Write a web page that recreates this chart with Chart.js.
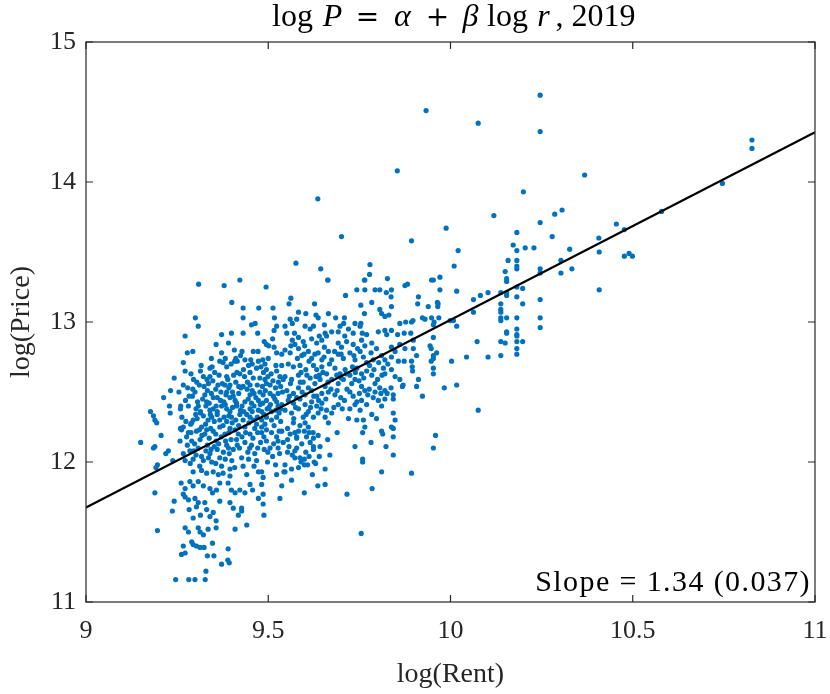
<!DOCTYPE html>
<html>
<head>
<meta charset="utf-8">
<title>log P vs log r, 2019</title>
<script src="https://cdn.jsdelivr.net/npm/chart.js@4.4.1/dist/chart.umd.min.js"></script>
<style>
  html, body { margin: 0; padding: 0; background: #fff; }
  #wrap { width: 830px; height: 694px; }
</style>
</head>
<body>
<div id="wrap"><canvas id="chart" width="830" height="694"></canvas></div>
<script>
// axis ticks
const xTicks = [9, 9.5, 10, 10.5, 11];
const yTicks = [11, 12, 13, 14, 15];

// fitted line log P = a + b log r (end points at the x limits)
const fitRent = [9, 11];
const fitPrice = [11.675, 14.355];
const slopeLabel = 'Slope = 1.34 (0.037)';

// observations [log rent, log price]
const westUpper = [
  [9.309,13.27],[9.379,13.26],[9.422,13.30],[9.494,13.25],[9.400,13.14],[9.431,13.10],[9.474,13.10],[9.513,13.10],
  [9.300,13.03],[9.431,13.03],[9.517,13.03],[9.308,12.97],[9.454,12.98],[9.464,12.99],[9.523,12.97],[9.272,12.90],
  [9.372,12.91],[9.399,12.92],[9.431,12.92],[9.471,12.92],[9.516,12.94],[9.512,12.88],[9.357,12.84],[9.391,12.85],
  [9.489,12.86],[9.495,12.84],[9.501,12.83],[9.516,12.82],[9.293,12.79],[9.278,12.78],[9.372,12.78],[9.407,12.80],
  [9.428,12.79],[9.459,12.79],[9.472,12.79],[9.523,12.78],[9.344,12.74],[9.367,12.72],[9.376,12.71],[9.411,12.74],
  [9.415,12.72],[9.408,12.72],[9.436,12.73],[9.452,12.73],[9.473,12.72],[9.485,12.73],[9.500,12.74],[9.537,12.77],
  [9.267,12.71],[9.316,12.69],[9.340,12.67],[9.386,12.68],[9.446,12.69],[9.432,12.66],[9.468,12.67],[9.480,12.68],
  [9.495,12.66],[9.521,12.69],[9.537,12.69],[9.272,12.65],[9.314,12.65],[9.353,12.64],[9.414,12.64],[9.422,12.63],
  [9.450,12.64],[9.508,12.63],[9.523,12.65],[9.242,12.60],[9.295,12.59],[9.340,12.61],[9.332,12.59],[9.386,12.61],
  [9.389,12.59],[9.435,12.61],[9.459,12.60],[9.477,12.60],[9.491,12.59],[9.499,12.61],[9.532,12.61],[9.541,12.59],
  [9.267,12.55],[9.311,12.55],[9.324,12.54],[9.362,12.55],[9.374,12.56],[9.395,12.55],[9.392,12.53],[9.419,12.54],
  [9.425,12.53],[9.431,12.54],[9.450,12.55],[9.470,12.55],[9.484,12.54],[9.505,12.55],[9.520,12.53],[9.534,12.54],
  [9.232,12.51],[9.255,12.50],[9.293,12.52],[9.299,12.50],[9.333,12.51],[9.344,12.49],[9.386,12.50],[9.384,12.48],
  [9.419,12.49],[9.404,12.47],[9.450,12.48],[9.461,12.49],[9.477,12.50],[9.486,12.48],[9.505,12.49],[9.514,12.47],
  [9.527,12.49],[9.539,12.50],[9.213,12.46],[9.273,12.44],[9.292,12.47],[9.320,12.45],[9.331,12.43],[9.349,12.46],
  [9.360,12.46],[9.369,12.44],[9.378,12.43],[9.395,12.46],[9.409,12.44],[9.413,12.42],[9.436,12.43],[9.445,12.45],
  [9.454,12.42],[9.473,12.44],[9.485,12.42],[9.495,12.44],[9.506,12.41],[9.523,12.43],[9.537,12.41],[9.229,12.40],
  [9.231,12.35],[9.260,12.40],[9.259,12.38],[9.308,12.40],[9.314,12.36],[9.329,12.40],[9.340,12.37],[9.349,12.38],
  [9.360,12.36],[9.372,12.40],[9.386,12.38],[9.395,12.36],[9.413,12.40],[9.424,12.37],[9.433,12.36],[9.450,12.38],
  [9.461,12.40],[9.473,12.37],[9.482,12.36],[9.497,12.38],[9.509,12.36],[9.521,12.37],[9.534,12.38],[9.177,12.36],
  [9.185,12.33],[9.189,12.30],[9.194,12.28],[9.263,12.32],[9.274,12.29],[9.294,12.30],[9.290,12.28],[9.314,12.35],
  [9.322,12.33],[9.335,12.30],[9.345,12.32],[9.360,12.34],[9.367,12.30],[9.379,12.32],[9.386,12.29],[9.399,12.32],
  [9.411,12.30],[9.422,12.34],[9.431,12.30],[9.450,12.32],[9.459,12.30],[9.470,12.32],[9.482,12.30],[9.495,12.32],
  [9.509,12.30],[9.523,12.32],[9.259,12.24],[9.267,12.25],[9.317,12.25],[9.342,12.24],[9.367,12.25],[9.395,12.24],
  [9.436,12.25],[9.463,12.24],[9.482,12.25],
  [9.283,12.47],[9.306,12.43],[9.326,12.48],[9.356,12.52],[9.381,12.55],[9.402,12.50],[9.442,12.52],[9.466,12.46],
  [9.492,12.51],[9.518,12.45],[9.288,12.63],[9.322,12.61],[9.348,12.58],[9.365,12.62],[9.405,12.62],[9.443,12.57],
  [9.487,12.64],[9.513,12.58],[9.301,12.34],[9.341,12.34],[9.392,12.33],[9.441,12.34],[9.488,12.34],[9.530,12.35],
  [9.287,12.27],[9.305,12.31],[9.328,12.27],[9.352,12.29],[9.376,12.26],[9.401,12.28],[9.419,12.26],[9.447,12.28],
  [9.468,12.27],[9.491,12.27],[9.516,12.26],[9.534,12.29],[9.281,12.40],[9.302,12.38],[9.338,12.42],[9.357,12.40],
  [9.382,12.41],[9.402,12.39],[9.428,12.40],[9.456,12.36],[9.478,12.41],[9.502,12.39],[9.527,12.40],[9.279,12.53],
  [9.304,12.57],[9.336,12.56],[9.370,12.50],[9.411,12.57],[9.456,12.51],[9.495,12.56],[9.528,12.57],[9.346,12.68],
  [9.398,12.70],[9.456,12.70],[9.491,12.70],[9.424,12.76],[9.382,12.74]
];

const midUpper = [
  [9.663,13.30],[9.765,13.30],[9.875,13.26],[9.882,13.27],[9.948,13.30],[9.712,13.19],[9.743,13.23],[9.765,13.23],
  [9.793,13.23],[9.806,13.23],[9.824,13.21],[9.838,13.23],[9.562,13.17],[9.557,13.13],[9.627,13.13],[9.754,13.12],
  [9.784,13.14],[9.837,13.18],[9.838,13.11],[9.912,13.18],[9.910,13.13],[9.939,13.11],[9.966,13.13],[9.965,13.11],
  [9.583,13.07],[9.603,13.06],[9.631,13.05],[9.637,13.03],[9.665,13.06],[9.764,13.06],[9.806,13.09],[9.811,13.06],
  [9.820,13.04],[9.831,13.05],[9.566,12.99],[9.560,13.02],[9.578,13.02],[9.685,13.03],[9.709,13.03],[9.707,12.99],
  [9.738,12.99],[9.754,12.99],[9.861,12.99],[9.877,13.00],[9.893,13.00],[9.897,13.01],[9.923,13.03],[9.930,13.02],
  [9.948,13.03],[9.955,13.00],[9.546,12.97],[9.551,12.92],[9.601,12.97],[9.615,12.95],[9.624,12.97],[9.654,12.98],
  [9.656,12.92],[9.674,12.93],[9.697,12.97],[9.692,12.93],[9.720,12.95],[9.733,12.92],[9.752,12.97],[9.758,12.92],
  [9.802,12.93],[9.820,12.94],[9.825,12.91],[9.838,12.94],[9.855,12.91],[9.873,12.92],[9.891,12.92],[9.898,12.87],
  [9.566,12.87],[9.583,12.89],[9.596,12.86],[9.573,12.84],[9.619,12.88],[9.633,12.85],[9.647,12.87],[9.660,12.90],
  [9.692,12.85],[9.701,12.82],[9.715,12.86],[9.733,12.84],[9.756,12.87],[9.765,12.83],[9.784,12.85],[9.797,12.81],
  [9.838,12.82],[9.848,12.79],[9.861,12.84],[9.875,12.81],[9.898,12.81],[9.907,12.76],[9.546,12.80],[9.560,12.78],
  [9.583,12.81],[9.592,12.76],[9.610,12.79],[9.619,12.74],[9.637,12.78],[9.647,12.73],[9.665,12.79],[9.674,12.73],
  [9.692,12.77],[9.706,12.74],[9.724,12.78],[9.738,12.73],[9.752,12.79],[9.761,12.75],[9.788,12.73],[9.811,12.76],
  [9.820,12.73],[9.838,12.75],[9.857,12.72],[9.873,12.72],[9.893,12.72],[9.895,12.68],[9.896,12.65],[9.555,12.70],
  [9.569,12.68],[9.587,12.69],[9.603,12.66],[9.624,12.69],[9.633,12.66],[9.647,12.68],[9.660,12.63],[9.683,12.67],
  [9.697,12.63],[9.711,12.66],[9.724,12.62],[9.743,12.67],[9.756,12.63],[9.770,12.65],[9.784,12.62],[9.816,12.67],
  [9.820,12.63],[9.838,12.66],[9.848,12.61],[9.861,12.59],[9.870,12.55],[9.912,12.59],[9.907,12.54],[9.546,12.61],
  [9.564,12.59],[9.583,12.62],[9.596,12.57],[9.615,12.60],[9.628,12.56],[9.642,12.59],[9.656,12.54],[9.674,12.59],
  [9.692,12.56],[9.706,12.59],[9.729,12.56],[9.738,12.59],[9.756,12.54],[9.765,12.51],[9.773,12.48],[9.793,12.56],
  [9.806,12.53],[9.820,12.51],[9.837,12.53],[9.843,12.48],[9.868,12.54],[9.551,12.51],[9.569,12.49],[9.583,12.53],
  [9.601,12.48],[9.619,12.51],[9.633,12.47],[9.647,12.49],[9.665,12.50],[9.683,12.48],[9.709,12.44],[9.733,12.47],
  [9.743,12.43],[9.756,12.44],[9.770,12.41],[9.788,12.46],[9.802,12.44],[9.820,12.45],[9.843,12.45],[9.923,12.47],
  [9.555,12.44],[9.569,12.42],[9.587,12.45],[9.601,12.41],[9.619,12.43],[9.633,12.40],[9.647,12.42],[9.660,12.37],
  [9.692,12.41],[9.738,12.41],[9.724,12.38],[9.546,12.37],[9.564,12.35],[9.583,12.38],[9.596,12.32],[9.610,12.36],
  [9.624,12.32],[9.637,12.35],[9.656,12.32],[9.720,12.31],[9.743,12.30],[9.761,12.30],[9.784,12.34],[9.797,12.31],
  [9.843,12.35],[9.848,12.30],[9.569,12.28],[9.587,12.26],[9.601,12.28],[9.610,12.25],[9.665,12.28],[9.765,12.25],
  [9.838,12.25],
  [9.590,12.64],[9.612,12.72],[9.640,12.62],[9.668,12.70],[9.700,12.60],[9.731,12.68],[9.749,12.58],[9.778,12.69],
  [9.800,12.59],[9.828,12.70],[9.578,12.46],[9.610,12.53],[9.638,12.44],[9.672,12.52],[9.699,12.46],[9.716,12.52],
  [9.777,12.52],[9.809,12.49],[9.562,12.83],[9.600,12.83],[9.654,12.82],[9.682,12.79],[9.745,12.81],[9.782,12.78],
  [9.570,12.31],[9.616,12.39],[9.674,12.35],[9.703,12.38],[9.580,12.74],[9.628,12.77],
  [9.561,12.56],[9.588,12.57],[9.606,12.62],[9.631,12.61],[9.650,12.64],[9.664,12.57],[9.688,12.62],[9.714,12.63],
  [9.739,12.64],[9.762,12.60],[9.790,12.66],[9.812,12.62],[9.558,12.47],[9.593,12.50],[9.625,12.47],[9.658,12.45],
  [9.689,12.51],[9.724,12.50],[9.750,12.49],[9.793,12.50],[9.826,12.49],[9.575,12.39],[9.604,12.34],[9.645,12.38],
  [9.680,12.39],[9.752,12.37],[9.811,12.40],[9.598,12.77],[9.653,12.75],[9.700,12.77],[9.735,12.76],[9.770,12.71],
  [9.803,12.71],[9.572,12.92],[9.640,12.90],[9.710,12.90],[9.770,12.91]
];

const westLower = [
  [9.150,12.14],[9.185,12.10],[9.189,12.11],[9.206,12.19],[9.219,12.06],[9.226,12.08],[9.196,11.98],[9.192,11.96],
  [9.238,12.01],[9.262,12.23],[9.258,12.15],[9.267,12.06],[9.272,12.01],[9.281,12.21],[9.290,12.15],[9.285,12.08],
  [9.294,12.02],[9.303,12.22],[9.313,12.16],[9.308,12.10],[9.317,12.04],[9.322,12.01],[9.326,12.20],[9.333,12.12],
  [9.340,12.06],[9.345,12.00],[9.349,12.22],[9.357,12.15],[9.360,12.09],[9.367,12.03],[9.372,11.97],[9.381,12.20],
  [9.386,12.12],[9.393,12.06],[9.400,12.01],[9.395,11.95],[9.409,12.23],[9.413,12.16],[9.421,12.10],[9.427,12.03],
  [9.431,11.97],[9.441,11.91],[9.450,12.20],[9.454,12.12],[9.463,12.06],[9.468,12.01],[9.473,11.93],[9.482,11.93],
  [9.486,11.89],[9.482,12.21],[9.495,12.15],[9.505,12.10],[9.512,12.04],[9.523,12.18],[9.527,12.10],[9.523,11.91],
  [9.537,12.22],[9.541,12.14],[9.543,11.93],[9.294,11.93],[9.317,11.94],[9.331,11.92],[9.349,11.93],[9.363,11.91],
  [9.376,11.92],[9.395,11.90],[9.261,11.85],[9.272,11.81],[9.267,11.77],[9.285,11.86],[9.294,11.83],[9.308,11.86],
  [9.322,11.83],[9.340,11.81],[9.347,11.78],[9.358,11.80],[9.367,11.85],[9.390,11.85],[9.399,11.80],[9.409,11.78],
  [9.422,11.80],[9.436,11.78],[9.450,11.84],[9.457,11.80],[9.473,11.74],[9.482,11.84],[9.486,11.77],[9.486,11.70],
  [9.488,11.62],[9.537,11.83],[9.532,11.74],[9.189,11.78],[9.242,11.72],[9.237,11.65],[9.272,11.75],[9.281,11.73],
  [9.299,11.74],[9.308,11.71],[9.283,11.66],[9.294,11.60],[9.303,11.68],[9.314,11.62],[9.326,11.71],[9.331,11.66],
  [9.340,11.61],[9.349,11.64],[9.357,11.58],[9.367,11.72],[9.395,11.71],[9.404,11.67],[9.418,11.62],[9.427,11.67],
  [9.427,11.65],[9.196,11.51],[9.272,11.53],[9.281,11.50],[9.308,11.53],[9.313,11.50],[9.322,11.48],[9.335,11.52],
  [9.357,11.53],[9.347,11.42],[9.409,11.52],[9.441,11.55],[9.267,11.40],[9.262,11.34],[9.272,11.35],[9.290,11.43],
  [9.294,11.41],[9.303,11.40],[9.313,11.39],[9.324,11.39],[9.333,11.33],[9.351,11.33],[9.390,11.38],[9.372,11.27],
  [9.389,11.30],[9.393,11.28],[9.329,11.22],[9.246,11.16],[9.282,11.16],[9.299,11.16],[9.327,11.16],
  [9.276,12.18],[9.298,12.13],[9.318,12.19],[9.338,12.17],[9.352,12.11],[9.371,12.18],[9.377,12.07],[9.398,12.16],
  [9.404,12.09],[9.418,12.20],[9.436,12.14],[9.444,12.07],[9.458,12.17],[9.471,12.10],[9.488,12.18],[9.499,12.07],
  [9.515,12.13],[9.531,12.06],[9.286,11.99],[9.312,11.97],[9.336,12.03],[9.356,11.99],[9.382,12.02],[9.408,11.96],
  [9.446,12.02],[9.461,11.97],[9.498,12.00],[9.520,11.98],[9.278,12.12],[9.302,12.05],[9.329,12.08],[9.364,12.13],
  [9.391,12.10],[9.428,12.18],[9.479,12.14],[9.509,12.21],
  [9.288,12.21],[9.311,12.23],[9.331,12.23],[9.356,12.20],[9.392,12.21],[9.438,12.21],[9.471,12.21],[9.495,12.23],
  [9.530,12.22],[9.296,12.08],[9.343,12.09],[9.383,12.15],[9.415,12.12],[9.449,12.10],[9.489,12.09],[9.527,12.15]
];

const midLower = [
  [9.553,12.24],[9.573,12.21],[9.583,12.22],[9.578,12.18],[9.599,12.22],[9.612,12.21],[9.623,12.21],[9.553,12.16],
  [9.578,12.17],[9.605,12.18],[9.624,12.17],[9.557,12.11],[9.578,12.10],[9.624,12.11],[9.624,12.09],[9.642,12.11],
  [9.553,12.07],[9.573,12.08],[9.573,12.03],[9.587,12.03],[9.599,12.02],[9.612,12.04],[9.590,12.00],[9.599,11.98],
  [9.608,11.98],[9.626,12.00],[9.630,11.99],[9.546,11.98],[9.564,11.95],[9.546,11.93],[9.621,11.91],[9.656,11.95],
  [9.669,12.05],[9.564,11.87],[9.636,11.83],[9.656,11.84],[9.599,11.78],[9.663,12.16],[9.689,12.21],[9.716,11.77],
  [9.738,12.11],[9.759,12.21],[9.782,12.14],[9.759,12.02],[9.759,12.00],[9.811,12.22],[9.814,12.20],[9.823,12.11],
  [9.843,12.18],[9.843,12.05],[9.843,12.24],[9.811,11.93],[9.785,11.81],[9.893,11.92],[9.755,11.49],[9.959,12.19],
  [9.953,12.10],[9.983,12.53],[10.017,12.55],[10.076,12.37],
  [9.560,12.20],[9.592,12.13],[9.615,12.14],[9.637,12.19],[9.566,12.05],[9.603,12.07],[9.640,12.04],[9.583,11.96]
];

const eastAndTop = [
  [9.933,14.51],[10.076,14.42],[10.246,14.62],[10.246,14.36],[10.368,14.05],[10.200,13.93],[10.119,13.76],[9.988,13.67],
  [10.286,13.77],[10.306,13.80],[10.246,13.71],[10.827,14.30],[10.827,14.24],[10.746,13.99],[10.579,13.79],[10.455,13.70],
  [10.477,13.66],[10.407,13.60],[10.408,13.50],[10.477,13.47],[10.490,13.49],[10.499,13.47],[10.408,13.23],[10.279,13.61],
  [10.327,13.52],[10.303,13.44],[10.303,13.35],[10.333,13.38],[10.246,13.38],[10.246,13.35],[10.246,13.16],[10.246,13.03],
  [10.246,12.96],[10.182,13.64],[10.172,13.55],[10.182,13.51],[10.205,13.53],[10.229,13.53],[10.158,13.44],[10.182,13.44],
  [10.182,13.40],[10.182,13.38],[10.150,13.36],[10.154,13.31],[10.154,13.29],[10.182,13.25],[10.198,13.24],[10.154,13.21],
  [10.154,13.19],[10.138,13.21],[10.182,13.18],[10.198,13.13],[10.138,13.13],[10.138,13.09],[10.138,13.07],[10.138,13.03],
  [10.138,13.01],[10.154,13.03],[10.182,13.03],[10.182,12.95],[10.182,12.91],[10.182,12.90],[10.182,12.86],[10.182,12.81],
  [10.182,12.77],[10.198,12.86],[10.154,12.93],[10.154,12.92],[10.138,12.86],[10.150,12.85],[10.138,12.76],[10.103,13.21],
  [10.082,13.19],[10.063,13.16],[10.063,13.07],[10.073,12.86],[10.044,12.75],[10.103,12.75],[10.003,12.72],[10.017,13.22],
  [10.010,13.40],[10.021,13.51],[9.971,13.32],[9.953,13.30],[9.971,13.23],[9.964,13.14],[9.953,12.98],[9.968,13.03],
  [9.999,13.01],[10.008,13.01],[10.017,12.97],[9.953,12.89],[9.944,12.83],[9.947,12.81],[9.962,12.78],[9.953,12.76],
  [9.953,12.74],[9.947,12.72],[9.953,12.67],[9.953,12.63],[9.854,14.08],[9.636,13.88],[9.701,13.61],[9.893,13.58],
  [9.576,13.42],[9.644,13.38],[9.779,13.41],[9.778,13.34],[9.664,13.30],[9.764,13.30],[9.827,13.31]
];

const observations = [].concat(westUpper, midUpper, westLower, midLower, eastAndTop)
  .map(p => ({ x: p[0], y: p[1] }));
const fitPoints = fitRent.map((v, i) => ({ x: v, y: fitPrice[i] }));

const SERIF = '"Liberation Serif", "DejaVu Serif", serif';
const WIDE = '"DejaVu Serif", "Liberation Serif", serif';
const INK = '#262626';
const TICK_LEN = 7;

// title pieces: text, style, centre relative to the axes centre
const titleParts = [
  ['log', 'r', -158], ['P', 'i', -118], ['=', 'w', -83], ['α', 'i', -48], ['+', 'w', -13],
  ['β', 'i', 20], ['log', 'r', 57], ['r', 'i', 93], [', 2019', 'r', 145]
];

// MATLAB style box with inward ticks, title with italic symbols, slope note
const matlabAxes = {
  id: 'matlabAxes',
  afterDatasetsDraw(chart) {
    const { ctx, chartArea: a, scales: { x, y } } = chart;
    ctx.save();
    ctx.strokeStyle = INK;
    ctx.lineWidth = 1.2;
    ctx.strokeRect(a.left, a.top, a.right - a.left, a.bottom - a.top);
    ctx.beginPath();
    xTicks.forEach(v => {
      const px = x.getPixelForValue(v);
      ctx.moveTo(px, a.bottom); ctx.lineTo(px, a.bottom - TICK_LEN);
      ctx.moveTo(px, a.top); ctx.lineTo(px, a.top + TICK_LEN);
    });
    yTicks.forEach(v => {
      const py = y.getPixelForValue(v);
      ctx.moveTo(a.left, py); ctx.lineTo(a.left + TICK_LEN, py);
      ctx.moveTo(a.right, py); ctx.lineTo(a.right - TICK_LEN, py);
    });
    ctx.stroke();
    ctx.restore();
  },
  afterDraw(chart) {
    const { ctx, chartArea: a } = chart;
    const mid = (a.left + a.right) / 2;
    ctx.save();
    ctx.fillStyle = '#000';
    ctx.textBaseline = 'alphabetic';
    ctx.textAlign = 'center';
    titleParts.forEach(([txt, style, dx]) => {
      if (style === 'i') ctx.font = 'italic 32px ' + SERIF;
      else if (style === 'w') ctx.font = '28px ' + WIDE;
      else ctx.font = '32px ' + SERIF;
      ctx.fillText(txt, mid + dx, 26);
    });
    // slope note
    ctx.font = '30px ' + SERIF;
    if ('letterSpacing' in ctx) ctx.letterSpacing = '1.4px';
    ctx.textAlign = 'right';
    ctx.fillText(slopeLabel, a.right - 4, a.bottom - 11);
    ctx.restore();
  }
};

const tickFont = { family: SERIF, size: 26 };
const labelFont = { family: SERIF, size: 28 };

new Chart(document.getElementById('chart'), {
  type: 'scatter',
  data: {
    datasets: [
      {
        label: 'Fit',
        data: fitPoints,
        showLine: true,
        borderColor: '#000',
        borderWidth: 2.2,
        pointRadius: 0,
        order: 0
      },
      {
        label: 'Observations',
        data: observations,
        backgroundColor: '#0072BD',
        pointRadius: 2.6,
        pointBorderWidth: 0,
        pointHoverRadius: 2.6,
        order: 1
      }
    ]
  },
  options: {
    responsive: false,
    animation: false,
    layout: { padding: { top: 42, right: 15, bottom: 0, left: 0 } },
    plugins: {
      legend: { display: false },
      tooltip: { enabled: false },
      title: { display: false }
    },
    scales: {
      x: {
        type: 'linear',
        min: 9,
        max: 11,
        afterBuildTicks: s => { s.ticks = xTicks.map(v => ({ value: v })); },
        afterFit: s => { s.height = 92; s.paddingLeft = 0; s.paddingRight = 0; },
        grid: { display: false, drawTicks: false },
        border: { display: false },
        ticks: { font: tickFont, color: INK, padding: 14, maxRotation: 0, callback: v => String(v) },
        title: { display: true, text: 'log(Rent)', font: labelFont, color: INK, padding: { top: 0, bottom: 3 } }
      },
      y: {
        type: 'linear',
        min: 11,
        max: 15,
        afterBuildTicks: s => { s.ticks = yTicks.map(v => ({ value: v })); },
        afterFit: s => { s.width = 86; s.paddingTop = 0; s.paddingBottom = 0; },
        grid: { display: false, drawTicks: false },
        border: { display: false },
        ticks: { font: tickFont, color: INK, padding: 10, callback: v => String(v) },
        title: { display: true, text: 'log(Price)', font: labelFont, color: INK, padding: { top: 5, bottom: 0 } }
      }
    }
  },
  plugins: [matlabAxes]
});
</script>
</body>
</html>
